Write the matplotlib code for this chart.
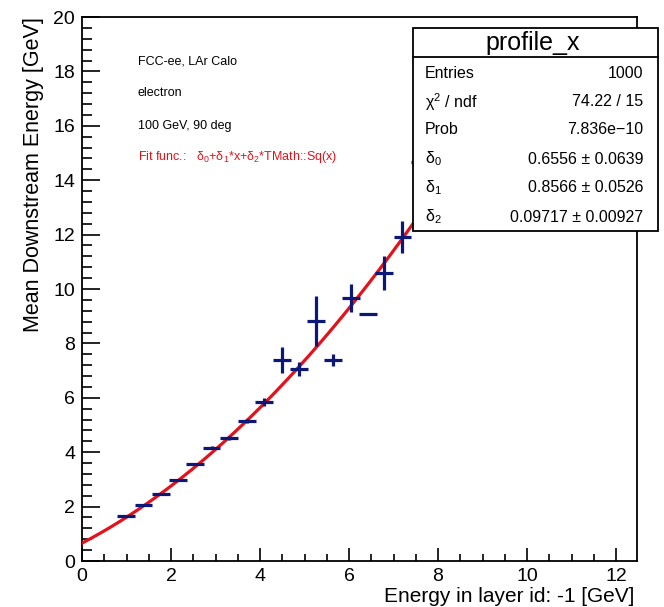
import numpy as np
import matplotlib
matplotlib.use("Agg")
import matplotlib.pyplot as plt
from matplotlib.patches import Rectangle
from matplotlib.ticker import MultipleLocator

plt.rcParams['font.family'] = ['Liberation Sans', 'DejaVu Sans']
plt.rcParams['mathtext.fontset'] = 'custom'
plt.rcParams['mathtext.rm'] = 'Liberation Sans'
plt.rcParams['mathtext.it'] = 'Liberation Sans'

# ---- data ----
bin_x = [0.99, 1.38, 1.78, 2.16, 2.53, 2.91, 3.31, 3.71, 4.09, 4.49, 4.88,
         5.26, 5.64, 6.04, 6.42, 6.79, 7.20, 7.60]
mean_y = [1.65, 2.06, 2.46, 2.98, 3.57, 4.17, 4.52, 5.15, 5.84, 7.39, 7.06,
          8.82, 7.39, 9.67, 9.08, 10.59, 11.91, 14.67]
err_y = [0.03, 0.04, 0.04, 0.05, 0.05, 0.06, 0.07, 0.08, 0.15, 0.48, 0.27,
         0.92, 0.22, 0.51, 0.03, 0.62, 0.60, 0.50]
half_bin = 0.2

fit_params = [0.6556, 0.8566, 0.09717]
fit_range = [0.0, 9.5]

stat_title = "profile_x"
stat_labels = ["Entries", "\u03c7$^{2}$ / ndf", "Prob", "\u03b4$_{0}$", "\u03b4$_{1}$", "\u03b4$_{2}$"]
stat_values = ["1000", "74.22 / 15", "7.836e\u221210", "0.6556 \u00b1 0.0639",
               "0.8566 \u00b1 0.0526", "0.09717 \u00b1 0.00927"]

info_lines = ["FCC-ee, LAr Calo", "electron", "100 GeV, 90 deg"]
fit_text = "Fit func.:   \u03b4$_{0}$+\u03b4$_{1}$*x+\u03b4$_{2}$*TMath::Sq(x)"

W, H = 664, 607
fig = plt.figure(figsize=(W / 100, H / 100), dpi=100)
fig.patch.set_facecolor('white')

def fx(px):
    return px / W

def fy(py):
    return 1 - py / H

ax = fig.add_axes([fx(82), fy(561), fx(637) - fx(82), fy(17) - fy(561)])
ax.set_xlim(0, 12.47)
ax.set_ylim(0, 20)

navy = '#0c1878'
red = '#e3121b'

xs = np.linspace(fit_range[0], fit_range[1], 400)
ys = fit_params[0] + fit_params[1] * xs + fit_params[2] * xs ** 2
ax.plot(xs, ys, color=red, lw=2.3, zorder=3)

ax.errorbar(bin_x, mean_y, xerr=half_bin, yerr=err_y, fmt='none',
            ecolor=navy, elinewidth=2.3, capsize=0, zorder=4)

for s in ax.spines.values():
    s.set_linewidth(1.3)

ax.xaxis.set_major_locator(MultipleLocator(2))
ax.xaxis.set_minor_locator(MultipleLocator(0.5))
ax.yaxis.set_major_locator(MultipleLocator(2))
ax.yaxis.set_minor_locator(MultipleLocator(0.4))
ax.tick_params(axis='both', which='both', direction='in', top=False, right=False,
               labelsize=14, width=1.2)
ax.tick_params(axis='x', which='major', length=9.5, pad=5)
ax.tick_params(axis='x', which='minor', length=5)
ax.tick_params(axis='y', which='major', length=13, pad=5)
ax.tick_params(axis='y', which='minor', length=7)

fig.text(fx(634), fy(596), "Energy in layer id: -1 [GeV]", ha='right', va='center', fontsize=15)
fig.text(fx(34), fy(17), "Mean Downstream Energy [GeV]", ha='center', va='top',
         rotation=90, fontsize=15.5)

# info text
for t, py in zip(info_lines, [62, 93, 126]):
    fig.text(fx(138), fy(py), t, ha='left', va='center', fontsize=9)
fig.text(fx(138), fy(157), fit_text, ha='left', va='center', fontsize=9, color=red)

# stats box
bx0, bx1, by0, by1 = 413, 658, 28, 231
box = Rectangle((fx(bx0), fy(by1)), fx(bx1) - fx(bx0), fy(by0) - fy(by1),
                transform=fig.transFigure, facecolor='white', edgecolor='black',
                lw=1.3, zorder=10, clip_on=False)
ax.add_patch(box)
ax.add_line(plt.Line2D([fx(bx0), fx(bx1)], [fy(57), fy(57)], transform=fig.transFigure,
                       color='black', lw=1.3, zorder=11, clip_on=False))
fig.text(fx(533), fy(43), stat_title, ha='center', va='center', fontsize=18, zorder=12)
for lab, val, py in zip(stat_labels, stat_values, [73, 102, 130, 159, 188, 217]):
    fig.text(fx(425), fy(py), lab, ha='left', va='center', fontsize=11.5, zorder=12)
    fig.text(fx(643), fy(py), val, ha='right', va='center', fontsize=11.5, zorder=12)

fig.savefig("out.png", dpi=100)
